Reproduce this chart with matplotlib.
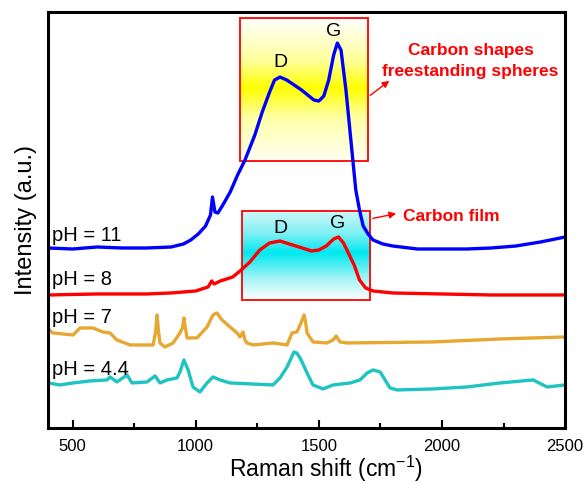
import numpy as np
import matplotlib
matplotlib.use('Agg')
import matplotlib.pyplot as plt
from matplotlib.colors import LinearSegmentedColormap
from matplotlib.patches import Rectangle

plt.rcParams['font.family'] = ['Liberation Sans', 'DejaVu Sans']
plt.rcParams['mathtext.fontset'] = 'custom'
plt.rcParams['mathtext.rm'] = 'Liberation Sans'
plt.rcParams['mathtext.default'] = 'regular'

# Raman spectra (offset stacked, arbitrary units)
x_ph11 = [400, 500, 600, 700, 800, 900, 950, 980, 1010, 1040, 1060, 1068, 1078, 1090,
          1110, 1140, 1170, 1200, 1240, 1270, 1300, 1320, 1342, 1370, 1400, 1430, 1460,
          1480, 1500, 1520, 1540, 1560, 1575, 1590, 1610, 1630, 1650, 1665, 1680, 1700,
          1720, 1760, 1800, 1900, 2000, 2100, 2200, 2300, 2400, 2500]
y_ph11 = [180, 179, 181, 180, 180, 181, 184, 188, 194, 202, 213, 231, 216, 215,
          223, 236, 253, 268, 293, 316, 336, 348, 351, 348, 343, 338, 332,
          328, 327, 332, 348, 373, 385, 378, 338, 288, 238, 218, 202, 194,
          188, 184, 182, 179, 179, 179, 180, 182, 186, 191]

x_ph8 = [400, 600, 800, 900, 1000, 1050, 1065, 1075, 1100, 1150, 1180, 1220, 1260, 1300,
         1342, 1380, 1420, 1470, 1500, 1530, 1560, 1580, 1600, 1620, 1645, 1665, 1690,
         1720, 1800, 2000, 2200, 2500]
y_ph8 = [133, 134, 134, 135, 137, 141, 147, 144, 147, 151, 157, 166, 178, 185,
         187, 184, 181, 177, 178, 182, 189, 191, 185, 175, 162, 148, 140,
         137, 135, 134, 133, 133]

x_ph7 = [400, 404, 420, 502, 530, 583, 623, 652, 680, 733, 827, 837, 843, 849, 855, 875,
         908, 936, 946, 952, 958, 965, 1005, 1046, 1070, 1086, 1107, 1139, 1168, 1180,
         1192, 1200, 1208, 1233, 1314, 1371, 1391, 1411, 1424, 1440, 1446, 1452, 1476,
         1533, 1558, 1570, 1586, 1614, 1964, 2236, 2500]
y_ph7 = [101, 98, 95, 93, 100, 100, 96, 95, 88, 83, 83, 96, 113, 96, 85, 81,
         85, 95, 100, 110, 100, 90, 90, 101, 113, 115, 108, 101, 95, 91,
         96, 88, 85, 83, 85, 83, 95, 96, 103, 113, 106, 95, 86,
         85, 88, 92, 86, 85, 86, 89, 91]

x_ph44 = [400, 449, 502, 571, 640, 652, 680, 721, 741, 802, 835, 855, 883, 924, 936,
          952, 969, 989, 1017, 1046, 1070, 1099, 1139, 1314, 1342, 1371, 1399, 1410,
          1424, 1452, 1476, 1517, 1558, 1627, 1667, 1696, 1720, 1749, 1769, 1789, 1818,
          1964, 2102, 2236, 2370, 2427, 2500]
y_ph44 = [45, 43, 45, 47, 48, 51, 46, 53, 45, 46, 52, 45, 48, 50, 56,
          68, 58, 41, 36, 45, 51, 48, 45, 43, 50, 61, 76, 75,
          70, 55, 43, 39, 43, 45, 48, 55, 58, 56, 48, 40, 38,
          39, 41, 45, 48, 41, 43]

labels = ['pH = 11', 'pH = 8', 'pH = 7', 'pH = 4.4']
colors = ['#0000FF', '#FF0000', '#E6A832', '#1EC3C3']

fig = plt.figure(figsize=(5.85, 4.83), dpi=100)
ax = fig.add_axes([0.082, 0.114, 0.884, 0.861])

# gradient boxes behind the spectra (row 0 = top of box)
yellow = LinearSegmentedColormap.from_list(
    'yel', [(0, '#FFFFFF'), (0.3, '#FFFF99'), (0.49, '#FFFF00'), (0.7, '#FFFFA8'), (1, '#FFFFF2')])
cyan = LinearSegmentedColormap.from_list(
    'cya', [(0, '#CDF7F8'), (0.25, '#80F0F4'), (0.47, '#00E8F0'), (0.75, '#A0F4F6'), (1, '#FFFFFF')])
grad = np.linspace(0, 1, 256).reshape(-1, 1)
ax.imshow(grad, cmap=yellow, extent=[1180, 1700, 267, 410], aspect='auto',
          origin='upper', zorder=0)
ax.imshow(grad, cmap=cyan, extent=[1188, 1708, 128, 217], aspect='auto',
          origin='upper', zorder=0)
ax.add_patch(Rectangle((1180, 267), 520, 143, fill=False, ec='#FF0000', lw=1.3, zorder=1))
ax.add_patch(Rectangle((1188, 128), 520, 89, fill=False, ec='#FF0000', lw=1.3, zorder=1))

for xs, ys, c in zip([x_ph11, x_ph8, x_ph7, x_ph44], [y_ph11, y_ph8, y_ph7, y_ph44], colors):
    ax.plot(xs, ys, color=c, lw=2.4, zorder=2)

for lab, ly in zip(labels, [193, 148, 110, 58]):
    ax.text(416, ly, lab, fontsize=14.5, va='center', ha='left')

ax.text(1342, 366, 'D', fontsize=14, ha='center', va='center')
ax.text(1558, 397, 'G', fontsize=14, ha='center', va='center')
ax.text(1342, 200, 'D', fontsize=14, ha='center', va='center')
ax.text(1578, 205, 'G', fontsize=14, ha='center', va='center')

ax.text(2116, 367, 'Carbon shapes\nfreestanding spheres', color='#FF0000', fontsize=12.5,
        fontweight='bold', ha='center', va='center', linespacing=1.45)
ax.text(1842, 212, 'Carbon film', color='#FF0000', fontsize=12.5, fontweight='bold',
        ha='left', va='center')
ax.annotate('', xy=(1795, 349), xytext=(1700, 331),
            arrowprops=dict(arrowstyle='-|>', color='#FF0000', lw=1, mutation_scale=10))
ax.annotate('', xy=(1825, 215), xytext=(1708, 209),
            arrowprops=dict(arrowstyle='-|>', color='#FF0000', lw=1, mutation_scale=10))

ax.set_xlim(400, 2500)
ax.set_ylim(0, 416)
ax.set_xticks([500, 1000, 1500, 2000, 2500])
ax.set_xticks([750, 1250, 1750, 2250], minor=True)
ax.set_yticks([])
ax.tick_params(axis='x', which='major', direction='in', length=6, width=1.5, labelsize=12, pad=8)
ax.tick_params(axis='x', which='minor', direction='in', length=3.5, width=1.5)
for s in ax.spines.values():
    s.set_visible(True)
    s.set_color('black')
    s.set_linewidth(2.2)
    s.set_zorder(5)
ax.set_xlabel('Raman shift (cm$^{-1}$)', fontsize=16.5)
ax.xaxis.label.set_verticalalignment('baseline')
ax.xaxis.set_label_coords(0.538, -0.117)
ax.set_ylabel('Intensity (a.u.)', fontsize=17, labelpad=8)

fig.savefig('out.png', dpi=100)
